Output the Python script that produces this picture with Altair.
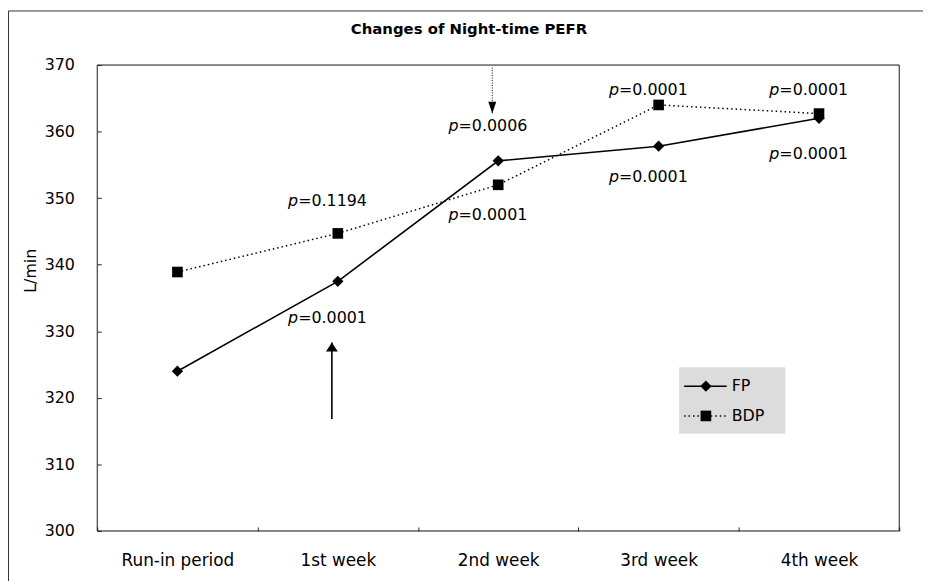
import altair as alt
import pandas as pd

categories = ["Run-in period", "1st week", "2nd week", "3rd week", "4th week"]
fp_values = [324.0, 337.5, 355.6, 357.8, 362.0]
bdp_values = [338.9, 344.7, 352.0, 364.0, 362.7]
y_ticks = [300, 310, 320, 330, 340, 350, 360, 370]

ann_category = ["1st week", "1st week", "2nd week", "2nd week",
                "3rd week", "3rd week", "4th week", "4th week"]
ann_y = [349.6, 332.0, 360.9, 347.4, 366.3, 353.2, 366.3, 356.6]
ann_text = ["=0.1194", "=0.0001", "=0.0006", "=0.0001",
            "=0.0001", "=0.0001", "=0.0001", "=0.0001"]

arrow_category = ["1st week", "2nd week"]
arrow_tail = [316.8, 369.6]
arrow_tip = [328.3, 362.7]
arrow_style = ["solid", "dotted"]

legend_labels = ["FP", "BDP"]
title_text = ["Changes of Night-time PEFR"]

W, H = 809, 470
FONT = "DejaVu Sans"

df = pd.DataFrame({
    "category": categories * 2,
    "value": fp_values + bdp_values,
    "series": ["FP"] * len(categories) + ["BDP"] * len(categories),
})
ann_df = pd.DataFrame({"category": ann_category, "y": ann_y, "text": ann_text})
arrow_df = pd.DataFrame({"category": arrow_category, "tail": arrow_tail,
                         "tip": arrow_tip, "style": arrow_style})
title_df = pd.DataFrame({"title": title_text})

xscale = alt.Scale(type="band", domain=categories, paddingInner=0, paddingOuter=0)
yscale = alt.Scale(domain=[300, 370], nice=False, zero=False)

x_enc = alt.X("category:N", scale=xscale, sort=categories,
              axis=alt.Axis(title=None, labelAngle=0, tickBand="extent", offset=-4,
                            tickSize=4, domain=False, labelPadding=22, grid=False,
                            labelFont=FONT, labelFontSize=17, labelColor="black",
                            tickColor="#222"))
y_enc = alt.Y("value:Q", scale=yscale,
              axis=alt.Axis(values=y_ticks, offset=-4, tickSize=4, domain=False,
                            labelPadding=23, grid=False, title="L/min",
                            titleX=-71, titleY=207, titleAngle=-90,
                            titleAlign="center", titleBaseline="middle",
                            titleFont=FONT, titleFontSize=16, titleFontWeight="normal",
                            titleColor="black", labelFont=FONT, labelFontSize=16,
                            labelColor="black", tickColor="#222"))

base = alt.Chart(df)

fp_line = base.transform_filter(alt.datum.series == "FP").mark_line(
    color="black", strokeWidth=1.6).encode(x=x_enc, y=y_enc)
bdp_line = base.transform_filter(alt.datum.series == "BDP").mark_line(
    color="black", strokeWidth=1.5, strokeDash=[1.5, 3]).encode(x=x_enc, y=y_enc)
fp_pts = base.transform_filter(alt.datum.series == "FP").mark_point(
    shape="diamond", filled=True, color="black", size=130, opacity=1).encode(x=x_enc, y=y_enc)
bdp_pts = base.transform_filter(alt.datum.series == "BDP").mark_point(
    shape="square", filled=True, color="black", size=115, opacity=1).encode(x=x_enc, y=y_enc)

ann_x = alt.X("category:N", scale=xscale, sort=categories)
ann_p = alt.Chart(ann_df).mark_text(
    text="p", font=FONT, fontSize=16, fontStyle="italic", align="right",
    baseline="middle", dx=-40, color="black").encode(
    x=ann_x, y=alt.Y("y:Q", scale=yscale))
ann_rest = alt.Chart(ann_df).mark_text(
    font=FONT, fontSize=16, align="left", baseline="middle", dx=-40,
    color="black").encode(x=ann_x, y=alt.Y("y:Q", scale=yscale), text="text:N")

solid_arrow = alt.Chart(arrow_df).transform_filter(alt.datum.style == "solid")
dotted_arrow = alt.Chart(arrow_df).transform_filter(alt.datum.style == "dotted")
arrow_solid_rule = solid_arrow.mark_rule(color="black", strokeWidth=1.6, xOffset=-6).encode(
    x=ann_x, y=alt.Y("tail:Q", scale=yscale), y2="tip:Q")
arrow_solid_head = solid_arrow.mark_point(
    shape="M0,0L-1,1.5L1,1.5Z", filled=True, color="black", size=144, opacity=1,
    xOffset=-6).encode(x=ann_x, y=alt.Y("tip:Q", scale=yscale))
arrow_dot_rule = dotted_arrow.mark_rule(color="black", strokeWidth=1, strokeDash=[1, 1.5],
                                        xOffset=-6).encode(
    x=ann_x, y=alt.Y("tail:Q", scale=yscale), y2="tip:Q")
arrow_dot_head = dotted_arrow.mark_point(
    shape="M0,0L-0.667,-2L0.667,-2Z", filled=True, color="black", size=144, opacity=1,
    xOffset=-6).encode(x=ann_x, y=alt.Y("tip:Q", scale=yscale))

# legend drawn inside the plot area
leg_df = pd.DataFrame({"label": legend_labels})
leg_box = alt.Chart(leg_df.head(1)).mark_rect(fill="#d6d6d6", opacity=0.85).encode(
    x=alt.value(587), x2=alt.value(694), y=alt.value(305), y2=alt.value(372))
legend_layers = [leg_box]
for i, lab in enumerate(legend_labels):
    yy = 324 + 30 * i
    one = alt.Chart(leg_df).transform_filter(alt.datum.label == lab)
    if lab == "FP":
        legend_layers.append(one.mark_rule(color="black", strokeWidth=1.6).encode(
            x=alt.value(592), x2=alt.value(635), y=alt.value(yy)))
        legend_layers.append(one.mark_point(shape="diamond", filled=True, color="black",
                                            size=130, opacity=1).encode(
            x=alt.value(614), y=alt.value(yy)))
    else:
        legend_layers.append(one.mark_rule(color="black", strokeWidth=1.5,
                                           strokeDash=[1.5, 3]).encode(
            x=alt.value(592), x2=alt.value(635), y=alt.value(yy)))
        legend_layers.append(one.mark_point(shape="square", filled=True, color="black",
                                            size=115, opacity=1).encode(
            x=alt.value(614), y=alt.value(yy)))
    legend_layers.append(one.mark_text(font=FONT, fontSize=16, align="left",
                                       baseline="middle", color="black").encode(
        x=alt.value(640), y=alt.value(yy), text="label:N"))

# outer frame (only its top and left edges fall inside the picture)
outer_frame = alt.Chart(leg_df.head(1)).mark_rect(
    fill=None, stroke="#333", strokeWidth=1).encode(
    x=alt.value(-89.5), x2=alt.value(W + 60), y=alt.value(-54.5), y2=alt.value(H + 80))
# plot frame
plot_frame = alt.Chart(leg_df.head(1)).mark_rect(
    fill=None, stroke="#222", strokeWidth=1).encode(
    x=alt.value(0), x2=alt.value(W), y=alt.value(0), y2=alt.value(H))
# title
title_mark = alt.Chart(title_df).mark_text(
    font=FONT, fontSize=15, fontWeight="bold", align="center", baseline="middle",
    color="black").encode(x=alt.value(375), y=alt.value(-36), text="title:N")

chart = alt.layer(
    outer_frame, plot_frame, title_mark, *legend_layers,
    bdp_line, fp_line, bdp_pts, fp_pts,
    ann_p, ann_rest,
    arrow_solid_rule, arrow_solid_head, arrow_dot_rule, arrow_dot_head,
).properties(
    width=W, height=H,
    autosize=alt.AutoSizeParams(type="none"),
    padding={"left": 90, "top": 55, "right": 24, "bottom": 48},
).configure_view(stroke=None).configure(background="white")

chart.save("out.html", embed_options={"renderer": "svg", "actions": False})
